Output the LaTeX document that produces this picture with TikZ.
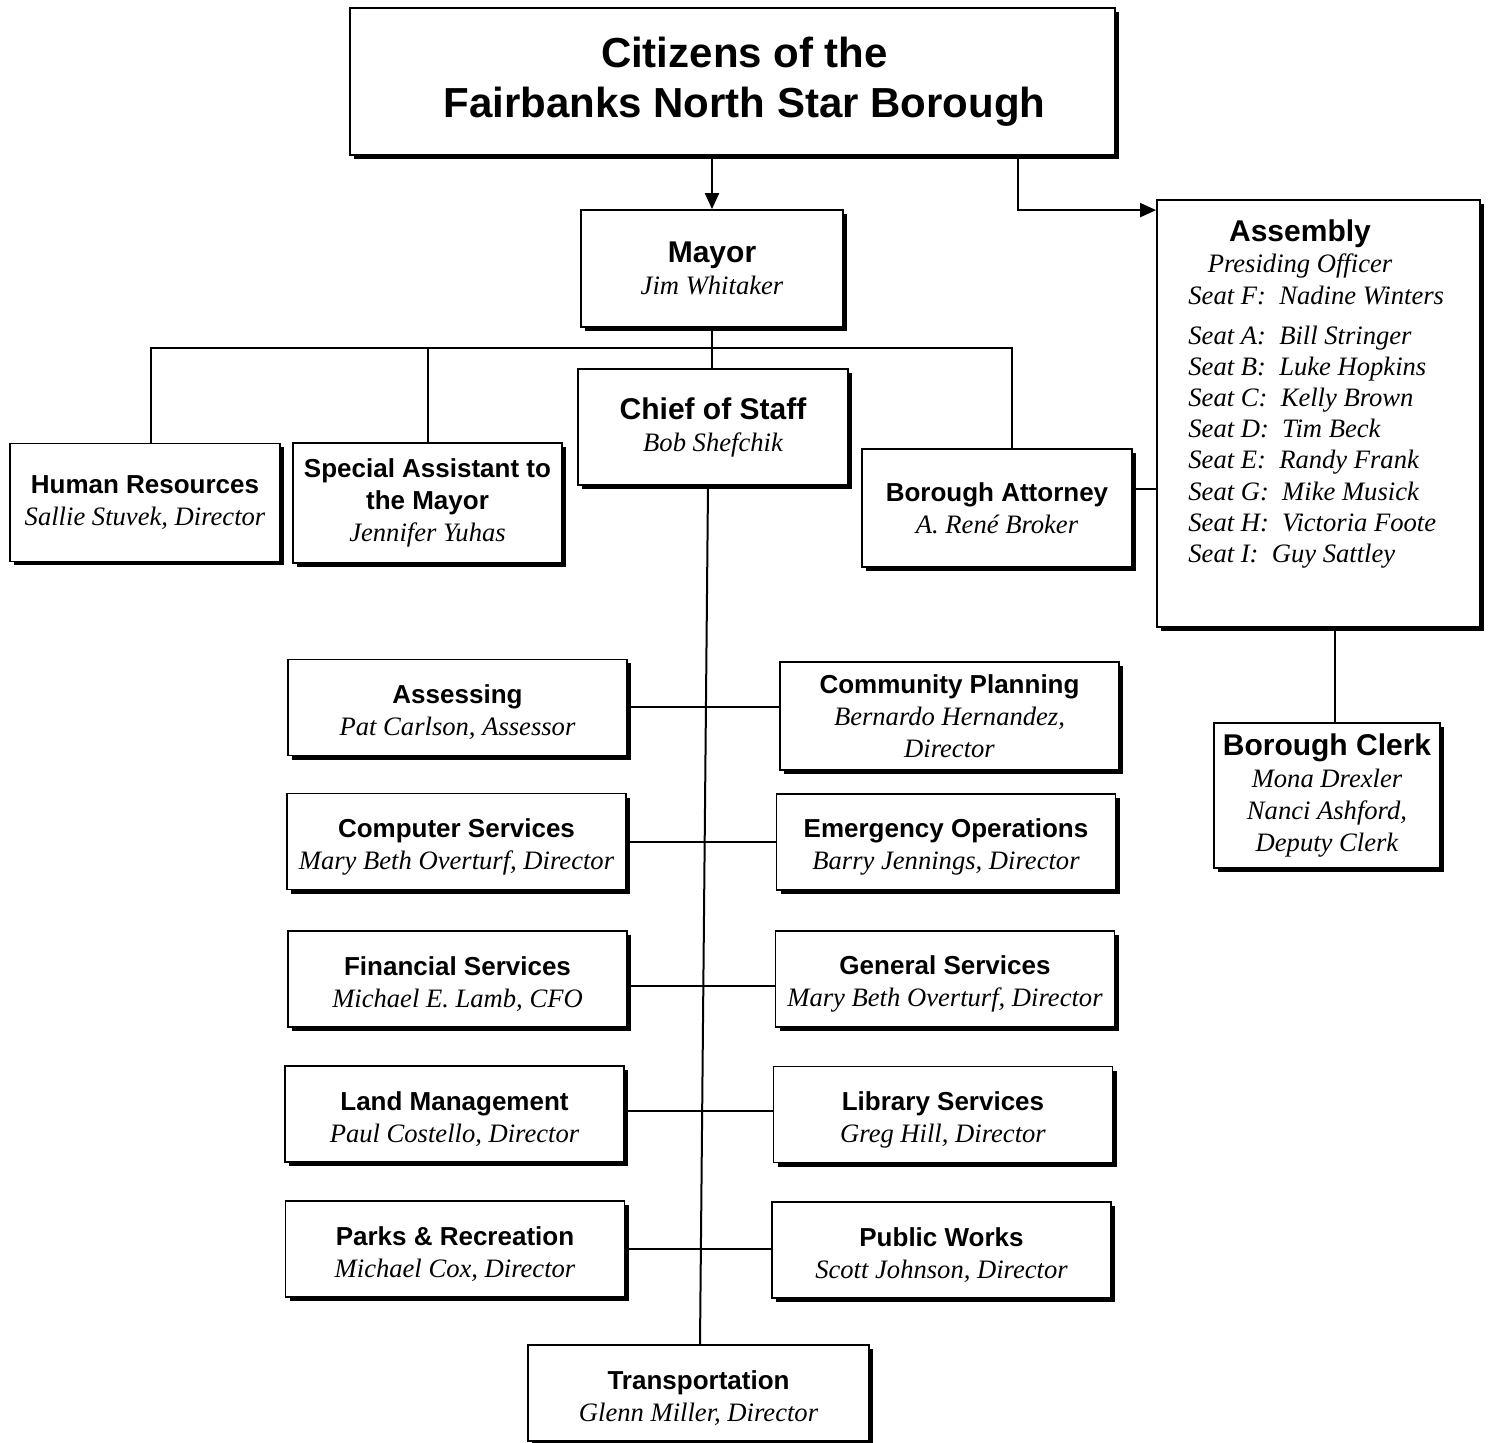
\documentclass[tikz,border=0pt]{standalone}
\usepackage{fontspec}
\setmainfont{Liberation Serif}
\setsansfont{Liberation Sans}
\usetikzlibrary{arrows.meta,shadows}
\newcommand{\hd}{\sffamily\bfseries\upshape\fontsize{13}{16}\selectfont}
\newcommand{\hdl}{\sffamily\bfseries\upshape\fontsize{15}{16}\selectfont}
\newcommand{\dep}[1]{\rule{0pt}{14.5pt}{\hd #1}}

\begin{document}
\begin{tikzpicture}[x=0.5pt,y=-0.5pt,
  box/.style={draw, line width=0.9pt, fill=white, align=center, inner sep=0pt,
    font=\itshape\fontsize{13.3}{16}\selectfont,
    drop shadow={shadow xshift=2pt, shadow yshift=-2pt, fill=black, opacity=1}},
  staff/.style={box, minimum width=135pt, minimum height=59pt},
  dept/.style={box, minimum width=169.5pt, minimum height=48pt},
  txt/.style={inner sep=0pt, font=\itshape\fontsize{13.3}{15.6}\selectfont},
  arr/.style={-{Triangle[length=8pt,width=7pt]}, line width=1pt},
  con/.style={line width=1pt}]
\path[use as bounding box, fill=white] (0,0) rectangle (1489,1443);
% top level
\node[box, minimum width=382.5pt, minimum height=73.5pt, font=\sffamily\bfseries\fontsize{21}{25}\selectfont] (cit) at (732.5,81.5)
  {\hspace*{12pt}Citizens of the\\\hspace*{12pt}Fairbanks North Star Borough};
\node[staff, minimum width=131pt, minimum height=58.5pt] (mayor) at (712,268.5) {{\hdl Mayor}\\Jim Whitaker};
\node[staff, minimum height=58pt] (cos) at (713,427) {{\hdl Chief of Staff}\\Bob Shefchik};
\node[staff] (hr) at (145,502.5) {{\hd Human Resources}\\Sallie Stuvek, Director};
\node[staff, minimum width=134.5pt, minimum height=60pt] (spa) at (427.5,503) {{\hd Special Assistant to}\\{\hd the Mayor}\\Jennifer Yuhas};
\node[staff] (att) at (997,508) {{\hd Borough Attorney}\\A. René Broker};
% assembly side
\node[box, minimum width=161.5pt, minimum height=213.5pt] (asm) at (1318.5,413.5) {};
\node[txt, align=center, anchor=north] (asmhd) at (1300,219) {{\hdl Assembly}\\Presiding Officer};
\node[txt, align=left, anchor=north west] (seats) at (1188,286)
  {Seat F:\enspace Nadine Winters\\[4pt]
   Seat A:\enspace Bill Stringer\\
   Seat B:\enspace Luke Hopkins\\
   Seat C:\enspace Kelly Brown\\
   Seat D:\enspace Tim Beck\\
   Seat E:\enspace Randy Frank\\
   Seat G:\enspace Mike Musick\\
   Seat H:\enspace Victoria Foote\\
   Seat I:\enspace Guy Sattley};
\node[box, minimum width=113pt, minimum height=72.5pt] (clerk) at (1327,795.5)
  {{\hdl Borough Clerk}\\Mona Drexler\\Nanci Ashford,\\Deputy Clerk};
% departments
\node[dept] (assess) at (457.5,707.5) {\dep{Assessing}\\Pat Carlson, Assessor};
\node[dept, minimum height=54pt] (plan) at (949.5,716) {{\hd Community Planning}\\Bernardo Hernandez,\\Director};
\node[dept] (comp) at (456.5,841.5) {\dep{Computer Services}\\Mary Beth Overturf, Director};
\node[dept] (emerg) at (946,842) {\dep{Emergency Operations}\\Barry Jennings, Director};
\node[dept] (fin) at (457.5,979) {\dep{Financial Services}\\Michael E. Lamb, CFO};
\node[dept] (gen) at (945,979) {\dep{General Services}\\Mary Beth Overturf, Director};
\node[dept] (land) at (454.5,1114) {\dep{Land Management}\\Paul Costello, Director};
\node[dept] (lib) at (943,1114.5) {\dep{Library Services}\\Greg Hill, Director};
\node[dept] (parks) at (455,1249) {\dep{Parks \& Recreation}\\Michael Cox, Director};
\node[dept] (works) at (941.5,1250) {\dep{Public Works}\\Scott Johnson, Director};
\node[dept, minimum width=170.5pt] (trans) at (698.5,1393) {\dep{Transportation}\\Glenn Miller, Director};
% connectors
\coordinate (bus) at (712,348);
\draw[arr] (mayor.north |- cit.south) -- (mayor.north);
\draw[arr] ([xshift=142.75pt]cit.south) |- ([yshift=-5.5pt]asm.north west);
\draw[con] (mayor.south) -- (mayor.south |- cos.north);
\draw[con] ([xshift=3pt]hr.north) |- (bus) -| ([xshift=7.5pt]att.north);
\draw[con] (spa.north) -- (spa.north |- bus);
\draw[con] ([yshift=9.5pt]att.east) -- ([yshift=9.5pt]att.east -| asm.west);
\draw[con] ([xshift=4pt]clerk.north) -- ([xshift=4pt]clerk.north |- asm.south);
\draw[con] ([xshift=-2.5pt]cos.south) -- ([xshift=0.75pt]trans.north);
\draw[con] (assess.east) -- (assess.east -| plan.west);
\draw[con] (comp.east) -- (comp.east -| emerg.west);
\draw[con] ([yshift=-3.5pt]fin.east) -- ([yshift=-3.5pt]fin.east -| gen.west);
\draw[con] ([yshift=1.5pt]land.east) -- ([yshift=1.5pt]land.east -| lib.west);
\draw[con] (parks.east) -- (parks.east -| works.west);
\end{tikzpicture}
\end{document}
